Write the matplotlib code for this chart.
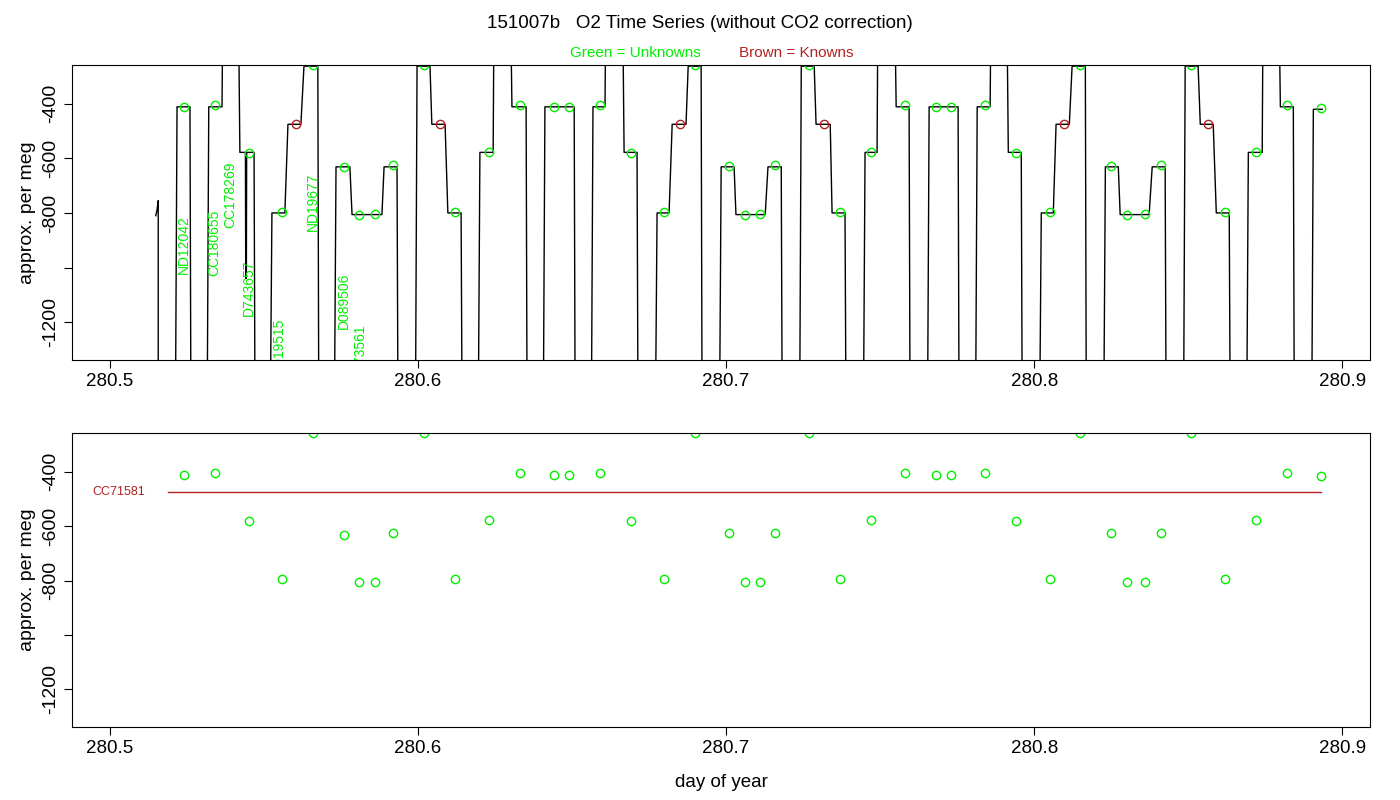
#!/usr/bin/env python3
import matplotlib
matplotlib.use("Agg")
import matplotlib.pyplot as plt

plt.rcParams["font.family"] = ["Liberation Sans", "DejaVu Sans"]

# plateaus of the raw O2 trace: start day, end day, level, link to next plateau
# link: d = drop to bottom, u = go off top, s = direct step, e = end
plat_start = [280.5218, 280.5321, 280.5422, 280.5526, 280.5578, 280.5630, 280.5734, 280.5786, 280.5890,
              280.5997, 280.6045, 280.6097, 280.6201, 280.6305, 280.6412, 280.6568, 280.6669, 280.6776,
              280.6825, 280.6877, 280.6984, 280.7032, 280.7136, 280.7244, 280.7292, 280.7344, 280.7451,
              280.7552, 280.7659, 280.7815, 280.7916, 280.8023, 280.8071, 280.8123, 280.8231, 280.8279,
              280.8383, 280.8490, 280.8539, 280.8591, 280.8695, 280.8799, 280.8906]
plat_end = [280.5260, 280.5364, 280.5468, 280.5568, 280.5620, 280.5675, 280.5779, 280.5883, 280.5932,
            280.6039, 280.6088, 280.6140, 280.6244, 280.6351, 280.6507, 280.6607, 280.6711, 280.6815,
            280.6870, 280.6919, 280.7026, 280.7127, 280.7179, 280.7286, 280.7338, 280.7386, 280.7490,
            280.7594, 280.7753, 280.7857, 280.7958, 280.8062, 280.8114, 280.8166, 280.8273, 280.8373,
            280.8425, 280.8532, 280.8581, 280.8633, 280.8740, 280.8841, 280.8935]
plat_level = [-411, -411, -578, -800, -475, -262, -631, -806, -631,
              -262, -475, -800, -578, -411, -411, -411, -578, -800,
              -475, -262, -631, -806, -631, -262, -475, -800, -578,
              -411, -411, -411, -578, -800, -475, -262, -631, -806,
              -631, -262, -475, -800, -578, -411, -420]
plat_link = ["d", "u", "d", "s", "s", "d", "s", "s", "d",
             "s", "s", "d", "u", "d", "d", "u", "d", "s",
             "s", "d", "s", "s", "d", "s", "s", "d", "u",
             "d", "d", "u", "d", "s", "s", "d", "s", "s",
             "d", "s", "s", "d", "u", "d", "e"]

# short fragment at the very start of the trace
start_t = [280.5149, 280.5153, 280.5157, 280.5157]
start_v = [-810, -790, -755, -1500]

# spike inside the D743657 plateau
spike_t = [280.5440, 280.5441, 280.5443, 280.5444]
spike_v = [-578, -1040, -1040, -578]

# unknown samples (green)
unk_t = [280.524, 280.534, 280.545, 280.556, 280.566, 280.576, 280.581, 280.586, 280.592, 280.602,
         280.612, 280.623, 280.633, 280.644, 280.649, 280.659, 280.669, 280.680, 280.690, 280.701,
         280.706, 280.711, 280.716, 280.727, 280.737, 280.747, 280.758, 280.768, 280.773, 280.784,
         280.794, 280.805, 280.815, 280.825, 280.830, 280.836, 280.841, 280.851, 280.862, 280.872,
         280.882, 280.893]
unk_v = [-411, -404, -580, -796, -257, -631, -807, -804, -624, -257,
         -796, -578, -404, -411, -411, -404, -580, -796, -257, -627,
         -807, -804, -624, -257, -796, -578, -404, -411, -411, -404,
         -580, -796, -257, -627, -807, -804, -624, -257, -796, -576,
         -404, -415]

# known samples (brown)
known_t = [280.5604, 280.6071, 280.6851, 280.7318, 280.8097, 280.8565]
known_v = [-475, -475, -475, -475, -475, -475]
known_name = "CC71581"
known_mean = -473
known_span = [280.519, 280.893]

# sample name labels in the top panel: day, top of text
lab_names = ["ND12042", "CC180655", "CC178269", "D743657", "ND19515", "ND19677", "D089506", "D273561"]
lab_t = [280.524, 280.534, 280.539, 280.545, 280.555, 280.566, 280.576, 280.581]
lab_top = [-807, -789, -613, -972, -1185, -650, -1020, -1204]

GREEN = "#00ee00"
BROWN = "#b22222"

# build the trace line
tx = list(start_t)
ty = list(start_v)
for i in range(len(plat_start)):
    prev = plat_link[i - 1] if i > 0 else "d"
    if prev == "d":
        tx.append(plat_start[i] - 0.0005); ty.append(-1500)
    elif prev == "u":
        tx.append(plat_start[i] - 0.0005); ty.append(0)
    if i == 2:
        tx += [plat_start[i]] + spike_t + [plat_end[i]]
        ty += [plat_level[i]] + spike_v + [plat_level[i]]
    else:
        tx += [plat_start[i], plat_end[i]]
        ty += [plat_level[i], plat_level[i]]
    link = plat_link[i]
    if link == "d":
        tx.append(plat_end[i] + 0.0003); ty.append(-1500)
    elif link == "u":
        tx.append(plat_end[i] + 0.0003); ty.append(0)

fig = plt.figure(figsize=(14, 8), dpi=100)
ax1 = fig.add_axes([0.0514, 0.55, 0.9272, 0.369])
ax2 = fig.add_axes([0.0514, 0.091, 0.9272, 0.368])

xlim = (280.4877, 280.909)
ylim = (-1339, -257)
yt = [-400, -600, -800, -1000, -1200]
ytl = ["-400", "-600", "-800", "", "-1200"]

for ax in (ax1, ax2):
    ax.set_xlim(*xlim)
    ax.set_ylim(*ylim)
    ax.set_yticks(yt)
    ax.set_yticklabels(ytl, rotation=90, va="center", fontsize=14)
    ax.set_xticks([280.5, 280.6, 280.7, 280.8, 280.9])
    ax.set_xticklabels(["280.5", "280.6", "280.7", "280.8", "280.9"], fontsize=13.5)
    ax.set_ylabel("approx. per meg", fontsize=14)
    ax.tick_params(length=6)

ax1.plot(tx, ty, color="black", lw=1)
ax1.plot(unk_t, unk_v, "o", mfc="none", mec=GREEN, ms=6, mew=1)
ax1.plot(known_t, known_v, "o", mfc="none", mec=BROWN, ms=6, mew=1)
for name, t, top in zip(lab_names, lab_t, lab_top):
    ax1.text(t, top, name, rotation=90, color=GREEN, fontsize=10, ha="center", va="top", clip_on=True)

ax2.plot(unk_t, unk_v, "o", mfc="none", mec=GREEN, ms=6, mew=1)
ax2.plot(known_span, [known_mean, known_mean], color=BROWN, lw=1)
ax2.text(known_span[0] - 0.0075, known_mean, known_name, color=BROWN, fontsize=9, ha="right", va="center")
ax2.set_xlabel("day of year", fontsize=13.5, labelpad=12)

fig.text(0.5, 0.971, "151007b   O2 Time Series (without CO2 correction)", ha="center", va="center", fontsize=13.5)
fig.text(0.454, 0.934, "Green = Unknowns", color=GREEN, ha="center", va="center", fontsize=11)
fig.text(0.569, 0.934, "Brown = Knowns", color=BROWN, ha="center", va="center", fontsize=11)

fig.savefig("out.png", dpi=100)
